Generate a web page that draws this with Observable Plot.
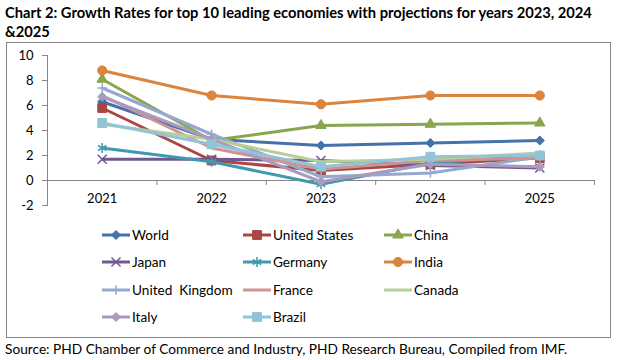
<!DOCTYPE html>
<html>
<head>
<meta charset="utf-8">
<script src="https://cdn.jsdelivr.net/npm/d3@7"></script>
<script src="https://cdn.jsdelivr.net/npm/@observablehq/plot@0.6"></script>
<style>
  body { margin: 0; background: #fff; font-family: Lato, "Open Sans", sans-serif; color: #000; }
  #title { position: absolute; left: 5px; top: 3px; font-weight: bold; font-size: 14.7px; line-height: 19px; white-space: nowrap; }
  #box { position: absolute; left: 6px; top: 42px; width: 603px; height: 294px; border: 1px solid #868686; }
  #chart { position: absolute; left: 0; top: 0; }
  #legend { position: absolute; left: 0; top: 0; width: 603px; height: 294px; }
  .item { position: absolute; height: 18px; display: flex; align-items: center; font-size: 13.6px; white-space: pre; }
  .item svg { display: block; }
  #source { position: absolute; left: 5px; top: 340px; font-size: 13.7px; white-space: nowrap; }
</style>
</head>
<body>
<div id="title">Chart 2: Growth Rates for top 10 leading economies with projections for years 2023, 2024<br>&amp;2025</div>
<div id="box">
  <div id="chart"></div>
  <div id="legend"></div>
</div>
<div id="source">Source: PHD Chamber of Commerce and Industry, PHD Research Bureau, Compiled from IMF.</div>
<script>
// ---- data ----
const years = [2021, 2022, 2023, 2024, 2025];
const countries = ["World", "United States", "China", "Japan", "Germany", "India", "United Kingdom", "France", "Canada", "Italy", "Brazil"];
const legendLabels = ["World", "United States", "China", "Japan", "Germany", "India", "United  Kingdom", "France", "Canada", "Italy", "Brazil"];
const world        = [6.3, 3.3, 2.8, 3.0, 3.2];
const unitedStates = [5.8, 1.6, 0.8, 1.3, 1.8];
const china        = [8.1, 3.2, 4.4, 4.5, 4.6];
const japan        = [1.7, 1.7, 1.6, 1.2, 1.0];
const germany      = [2.6, 1.5, -0.3, 1.4, 2.0];
const india        = [8.8, 6.8, 6.1, 6.8, 6.8];
const unitedKingdom= [7.4, 3.7, 0.3, 0.6, 1.9];
const france       = [6.8, 2.6, 0.9, 1.6, 1.8];
const canada       = [4.5, 3.3, 1.5, 1.7, 2.2];
const italy        = [6.7, 3.3, -0.1, 1.3, 1.1];
const brazil       = [4.6, 2.9, 1.1, 1.9, 2.0];
const yTicks = [-2, 0, 2, 4, 6, 8, 10];

// ---- styles ----
const series = [world, unitedStates, china, japan, germany, india, unitedKingdom, france, canada, italy, brazil];
const colors = ["#4572A7", "#AA4643", "#89A54E", "#71588F", "#4198AF", "#DB843D", "#93A9CF", "#D19392", "#B9CD96", "#A99BBD", "#92C3D6"];
const symbols = ["diamond2", "square", "triangle", "times", "asterisk", "circle", "plus", null, null, "diamond2", "square"];
const symbolR = {diamond2: 4.1, square: 5, triangle: 3.9, times: 4.2, asterisk: 4.7, circle: 4.6, plus: 3.2};
const strokeSymbols = new Set(["times", "asterisk", "plus"]);
const axisGray = "#868686";

const data = countries.flatMap((c, i) => years.map((yr, j) => ({country: c, year: yr, value: series[i][j]})));
const bounds = [years[0] - 0.5, ...years.map(y => y + 0.5)];

const marks = [
  Plot.ruleY([0], {stroke: axisGray}),
  Plot.frame({anchor: "left", stroke: axisGray}),
  Plot.ruleX(bounds, {x: d => d, y1: 0, y2: 0, insetBottom: -5, stroke: axisGray}),
  Plot.axisY({ticks: yTicks, tickFormat: d => String(d), tickSize: 5, tickPadding: 9, stroke: axisGray, label: null}),
  Plot.axisX({ticks: years, tickFormat: d => String(d), tickSize: 0, tickPadding: 0, dy: -12, label: null})
];
countries.forEach((c, i) => {
  const rows = data.filter(d => d.country === c);
  marks.push(Plot.line(rows, {x: "year", y: "value", stroke: colors[i], strokeWidth: 3, strokeLinejoin: "round", strokeLinecap: "round"}));
  const s = symbols[i];
  if (s) {
    if (strokeSymbols.has(s)) {
      marks.push(Plot.dot(rows, {x: "year", y: "value", symbol: s, r: symbolR[s], fill: "none", stroke: colors[i], strokeWidth: 1.5}));
    } else {
      marks.push(Plot.dot(rows, {x: "year", y: "value", symbol: s, r: symbolR[s], fill: colors[i], stroke: colors[i], strokeWidth: 1}));
    }
  }
});

const chart = Plot.plot({
  width: 603,
  height: 172,
  marginLeft: 40,
  marginRight: 16,
  marginTop: 12,
  marginBottom: 10,
  style: {fontFamily: "Lato, 'Open Sans', sans-serif", fontSize: "13px", color: "#000", background: "transparent"},
  x: {type: "linear", domain: [bounds[0], bounds[bounds.length - 1]], axis: null},
  y: {domain: [yTicks[0], yTicks[yTicks.length - 1]], axis: null},
  marks
});
document.getElementById("chart").appendChild(chart);

// ---- legend ----
const symMap = {diamond2: d3.symbolDiamond2, square: d3.symbolSquare, triangle: d3.symbolTriangle, times: d3.symbolTimes, asterisk: d3.symbolAsterisk, circle: d3.symbolCircle, plus: d3.symbolPlus};
const legend = document.getElementById("legend");
countries.forEach((c, i) => {
  const row = Math.floor(i / 3), col = i % 3;
  const item = document.createElement("div");
  item.className = "item";
  item.style.left = (94 + col * 141) + "px";
  item.style.top = (183 + row * 27.4) + "px";
  const svg = d3.create("svg").attr("width", 30).attr("height", 18);
  svg.append("line").attr("x1", 1).attr("x2", 29).attr("y1", 9).attr("y2", 9)
    .attr("stroke", colors[i]).attr("stroke-width", 3);
  const s = symbols[i];
  if (s) {
    const r = symbolR[s];
    const p = svg.append("path").attr("transform", "translate(15,9)")
      .attr("d", d3.symbol(symMap[s], Math.PI * r * r)());
    if (strokeSymbols.has(s)) p.attr("fill", "none").attr("stroke", colors[i]).attr("stroke-width", 1.5);
    else p.attr("fill", colors[i]).attr("stroke", colors[i]);
  }
  item.appendChild(svg.node());
  const span = document.createElement("span");
  span.style.marginLeft = "1px";
  span.textContent = legendLabels[i];
  item.appendChild(span);
  legend.appendChild(item);
});
</script>
</body>
</html>
